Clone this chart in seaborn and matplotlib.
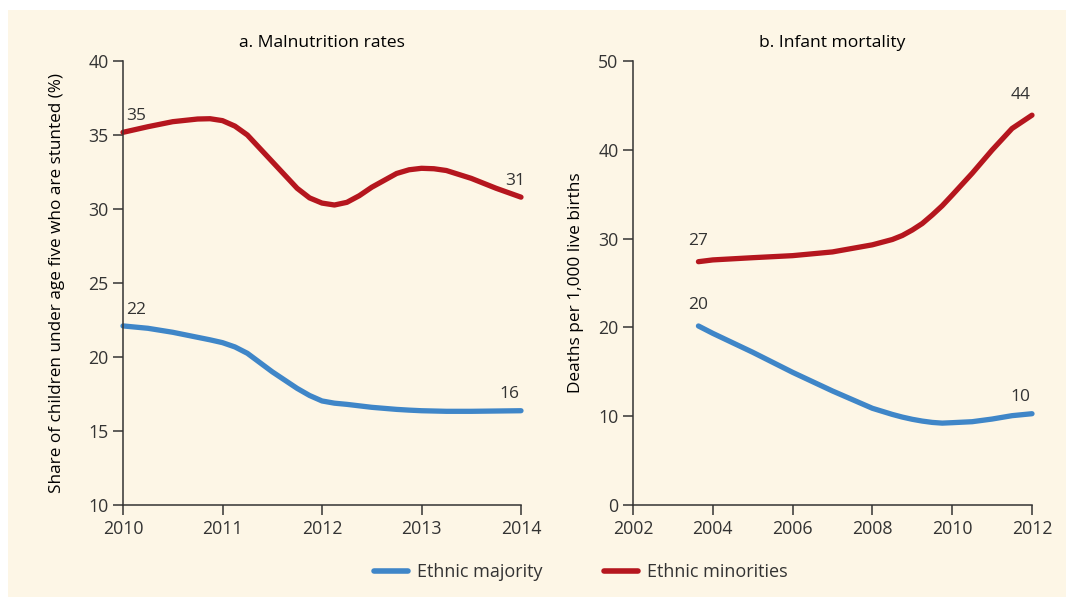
import matplotlib
matplotlib.use('Agg')
import matplotlib.pyplot as plt
import seaborn as sns
import pandas as pd
from matplotlib.patches import Rectangle

# panel a: malnutrition rates (denser where they bend)
years_a = [2010, 2010.25, 2010.5, 2010.75, 2010.875, 2011, 2011.125, 2011.25, 2011.5,
           2011.75, 2011.875, 2012, 2012.125, 2012.25, 2012.375, 2012.5, 2012.75,
           2012.875, 2013, 2013.125, 2013.25, 2013.5, 2013.75, 2014]
major_a = [22.1, 21.94, 21.67, 21.33, 21.16, 20.97, 20.68, 20.25, 19.0,
           17.88, 17.4, 17.03, 16.88, 16.8, 16.7, 16.6, 16.46,
           16.41, 16.37, 16.35, 16.33, 16.33, 16.35, 16.37]
minor_a = [35.18, 35.56, 35.9, 36.08, 36.1, 35.97, 35.6, 35.0, 33.2,
           31.4, 30.75, 30.4, 30.27, 30.45, 30.9, 31.47, 32.4,
           32.65, 32.75, 32.72, 32.6, 32.07, 31.4, 30.8]

# panel b: infant mortality
years_b = [2003.64, 2004, 2005, 2006, 2007, 2008, 2008.5, 2008.75, 2009, 2009.25,
           2009.5, 2009.75, 2010, 2010.5, 2011, 2011.5, 2012]
major_b = [20.16, 19.33, 17.2, 14.94, 12.84, 10.89, 10.2, 9.9, 9.65, 9.45,
           9.3, 9.22, 9.27, 9.38, 9.68, 10.06, 10.28]
minor_b = [27.4, 27.6, 27.85, 28.08, 28.5, 29.3, 29.9, 30.35, 30.97, 31.7,
           32.66, 33.7, 34.9, 37.35, 39.97, 42.4, 43.9]

groups = ['Ethnic majority', 'Ethnic minorities']
colors = {'Ethnic majority': '#3F86C8', 'Ethnic minorities': '#B5161E'}

df_a = pd.DataFrame({'year': years_a * 2, 'value': major_a + minor_a,
                     'group': [groups[0]] * len(years_a) + [groups[1]] * len(years_a)})
df_b = pd.DataFrame({'year': years_b * 2, 'value': major_b + minor_b,
                     'group': [groups[0]] * len(years_b) + [groups[1]] * len(years_b)})

sns.set_style('ticks')
plt.rcParams['font.family'] = ['Open Sans', 'DejaVu Sans']
bg = '#FDF6E6'
ink = '#333333'

fig = plt.figure(figsize=(10.66, 5.97), dpi=100)
fig.patch.set_facecolor('white')
fig.patches.append(Rectangle((8 / 1066, 0), 1, 1 - 10 / 597, transform=fig.transFigure,
                             facecolor=bg, edgecolor='none', zorder=-10))

ax1 = fig.add_axes([123 / 1066, 92 / 597, 398 / 1066, 444 / 597])
ax2 = fig.add_axes([633 / 1066, 92 / 597, 399 / 1066, 444 / 597])

for ax, df in [(ax1, df_a), (ax2, df_b)]:
    sns.lineplot(data=df, x='year', y='value', hue='group', palette=colors,
                 linewidth=3.8, ax=ax, legend=ax is ax1, estimator=None, sort=True)
    for line in ax.lines:
        line.set_solid_capstyle('round')
        line.set_solid_joinstyle('round')
        line.set_clip_on(False)
    ax.patch.set_alpha(0)
    for s in ['top', 'right']:
        ax.spines[s].set_visible(False)
    for s in ['left', 'bottom']:
        ax.spines[s].set_color(ink)
        ax.spines[s].set_linewidth(1.1)
    ax.tick_params(colors=ink, labelsize=12.8, length=7, width=1.1, direction='out')
    ax.set_xlabel('')

ax1.set_xlim(2010, 2014)
ax1.set_ylim(10, 40)
ax1.set_xticks([2010, 2011, 2012, 2013, 2014])
ax1.set_yticks(range(10, 41, 5))
ax1.set_ylabel('Share of children under age five who are stunted (%)', fontsize=12.3,
               color='black', labelpad=17)
ax1.set_title('a. Malnutrition rates', fontsize=12.6, color='black', pad=10)

ax2.set_xlim(2002, 2012)
ax2.set_ylim(0, 50)
ax2.set_xticks(range(2002, 2013, 2))
ax2.set_yticks(range(0, 51, 10))
ax2.set_ylabel('Deaths per 1,000 live births', fontsize=12.4, color='black', labelpad=10)
ax2.set_title('b. Infant mortality', fontsize=12.6, color='black', pad=10)

# end labels
lab = dict(fontsize=12.5, color=ink, textcoords='offset points', va='bottom')
ax1.annotate('35', (years_a[0], minor_a[0]), xytext=(2, 6), ha='left', **lab)
ax1.annotate('22', (years_a[0], major_a[0]), xytext=(2, 6), ha='left', **lab)
ax1.annotate('31', (years_a[-1], minor_a[-1]), xytext=(3, 6), ha='right', **lab)
ax1.annotate('16', (years_a[-1], major_a[-1]), xytext=(-1, 6), ha='right', **lab)
ax2.annotate('27', (years_b[0], minor_b[0]), xytext=(0, 9), ha='center', **lab)
ax2.annotate('20', (years_b[0], major_b[0]), xytext=(0, 9), ha='center', **lab)
ax2.annotate('44', (years_b[-1], minor_b[-1]), xytext=(-1, 9), ha='right', **lab)
ax2.annotate('10', (years_b[-1], major_b[-1]), xytext=(-1, 6), ha='right', **lab)

handles, labels = ax1.get_legend_handles_labels()
ax1.get_legend().remove()
leg = fig.legend(handles, labels, loc='center', bbox_to_anchor=(0.545, 0.042), ncol=2,
                 frameon=False, fontsize=13, handlelength=1.9, columnspacing=3.4, handletextpad=0.5)
for h in leg.get_lines():
    h.set_linewidth(4)
    h.set_solid_capstyle('round')
for t in leg.get_texts():
    t.set_color(ink)

fig.savefig('out.png', dpi=100, facecolor=fig.get_facecolor())
